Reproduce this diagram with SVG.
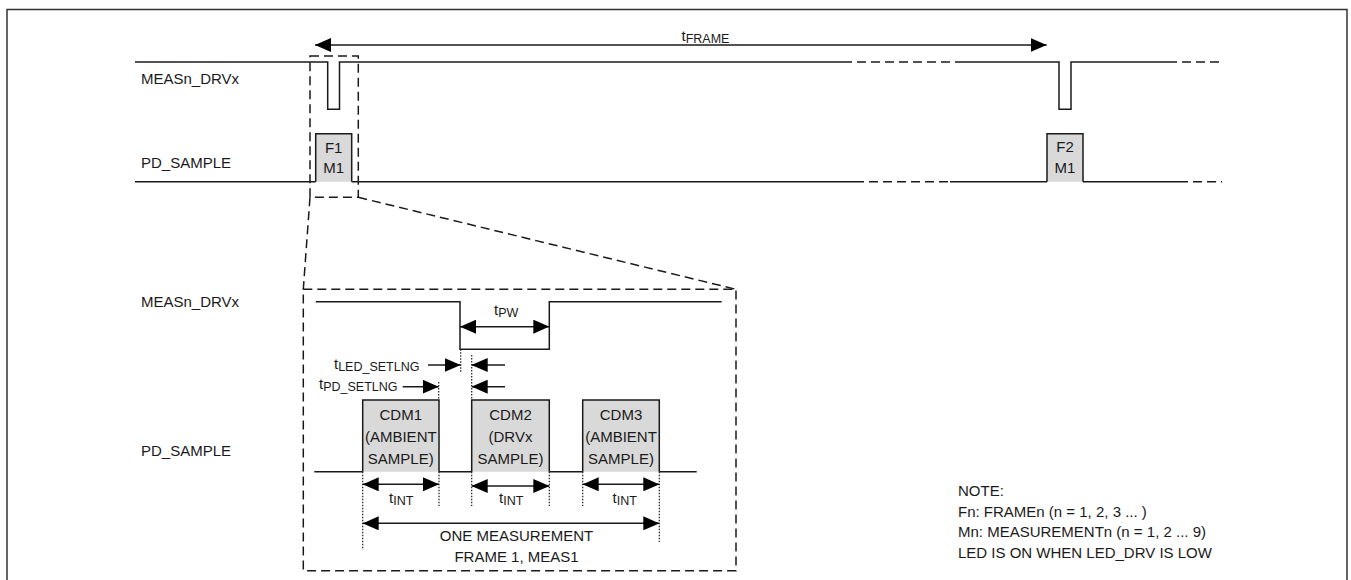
<svg xmlns="http://www.w3.org/2000/svg" width="1351" height="580" viewBox="0 0 1351 580">
<style>
text{font-family:"Liberation Sans",Arial,sans-serif;font-size:15px;fill:#1a1a1a}
.sub{font-size:12.5px}
.c{text-anchor:middle}
.sig{fill:none;stroke:#1a1a1a;stroke-width:1.5}
.dsig{fill:none;stroke:#1a1a1a;stroke-width:1.5;stroke-dasharray:9,5}
.box{fill:#d9d9d9;stroke:#1a1a1a;stroke-width:1.5}
.dash{fill:none;stroke:#1a1a1a;stroke-width:1.5;stroke-dasharray:9,5}
.dot{fill:none;stroke:#1a1a1a;stroke-width:1.2;stroke-dasharray:1.5,1.5}
.arr{fill:none;stroke:#1a1a1a;stroke-width:1.5;marker-end:url(#ah)}
.arr2{fill:none;stroke:#1a1a1a;stroke-width:1.5;marker-end:url(#ah);marker-start:url(#ah)}
</style>
<defs>
<marker id="ah" markerUnits="userSpaceOnUse" markerWidth="16" markerHeight="14" refX="16" refY="7" orient="auto-start-reverse" viewBox="0 0 16 14">
<path d="M0,0 L16,7 L0,14 z" fill="#000"/>
</marker>
</defs>
<rect x="7" y="9.5" width="1340" height="590" fill="#fff" stroke="#333" stroke-width="1.5"/>

<g id="labels">
<text x="141" y="84">MEASn_DRVx</text>
<text x="141" y="168">PD_SAMPLE</text>
<text x="141" y="307">MEASn_DRVx</text>
<text x="141" y="456">PD_SAMPLE</text>
</g>

<g id="top-meas">
<path class="sig" d="M135,62 H327.7 V109.3 H339.5 V62 H843"/>
<path class="dsig" d="M843,62 H955"/>
<path class="sig" d="M955,62 H1059 V109.3 H1071 V62 H1168"/>
<path class="dsig" d="M1168,62 H1222"/>
</g>

<g id="top-pd">
<path class="sig" d="M135,181.7 H315.7 M351.7,181.7 H855"/>
<path class="dsig" d="M855,181.7 H950"/>
<path class="sig" d="M950,181.7 H1047 M1083,181.7 H1179"/>
<path class="dsig" d="M1179,181.7 H1222"/>
</g>

<g id="f1m1">
<path class="box" d="M315.7,181.7 V133.7 H351.7 V181.7"/>
<text class="c" x="333.7" y="152.5">F1</text>
<text class="c" x="333.7" y="173">M1</text>
</g>
<g id="f2m1">
<path class="box" d="M1047,181.7 V133.7 H1083 V181.7"/>
<text class="c" x="1065" y="152">F2</text>
<text class="c" x="1065" y="173">M1</text>
</g>

<g id="tframe">
<text x="681.5" y="41">t<tspan class="sub" dy="1.5">FRAME</tspan></text>
</g>

<g id="zoom-box">
<rect class="dash" x="310" y="56" width="48.3" height="141.3"/>
<rect class="dash" x="303.3" y="289.3" width="432.7" height="281.4"/>
</g>

<g id="bottom-meas">
<path class="sig" d="M315.7,301.7 H460 V349.3 H549.3 V301.7 H721.7"/>
</g>

<g id="cdm1">
<path class="box" d="M362.7,471.7 V400 H439 V471.7"/>
<text class="c" x="400.8" y="420">CDM1</text>
<text class="c" x="400.8" y="442">(AMBIENT</text>
<text class="c" x="400.8" y="464">SAMPLE)</text>
</g>
<g id="cdm2">
<path class="box" d="M471.7,471.7 V400 H549.3 V471.7"/>
<text class="c" x="510.5" y="420">CDM2</text>
<text class="c" x="510.5" y="442">(DRVx</text>
<text class="c" x="510.5" y="464">SAMPLE)</text>
</g>
<g id="cdm3">
<path class="box" d="M582.7,471.7 V400 H659.3 V471.7"/>
<text class="c" x="621" y="420">CDM3</text>
<text class="c" x="621" y="442">(AMBIENT</text>
<text class="c" x="621" y="464">SAMPLE)</text>
</g>
<g id="bottom-pd">
<path class="sig" d="M314.3,471.7 H362.7 M439,471.7 H471.7 M549.3,471.7 H582.7 M659.3,471.7 H696.7"/>
</g>

<g id="timing-labels">
<text x="494" y="315">t<tspan class="sub" dy="1.5">PW</tspan></text>
<text x="334" y="369">t<tspan class="sub" dy="1.5">LED_SETLNG</tspan></text>
<text x="319" y="389">t<tspan class="sub" dy="1.5">PD_SETLNG</tspan></text>
<text x="389" y="503">t<tspan class="sub" dy="1.5">INT</tspan></text>
<text x="499" y="503">t<tspan class="sub" dy="1.5">INT</tspan></text>
<text x="612.5" y="503">t<tspan class="sub" dy="1.5">INT</tspan></text>
<text class="c" x="516.5" y="541">ONE MEASUREMENT</text>
<text class="c" x="516.5" y="562">FRAME 1, MEAS1</text>
</g>

<g id="note">
<text x="958" y="496">NOTE:</text>
<text x="958" y="516.5">Fn: FRAMEn (n = 1, 2, 3 ... )</text>
<text x="958" y="537">Mn: MEASUREMENTn (n = 1, 2 ... 9)</text>
<text x="958" y="557.5">LED IS ON WHEN LED_DRV IS LOW</text>
</g>

<g id="connectors">
<path class="arr2" d="M315,45 H1046.7"/>
<path class="dash" d="M310,197.3 L303.3,289.3 M358.3,197.3 L736,289.3"/>
<path class="arr2" d="M460,326.7 H549.3"/>
<path class="dot" d="M460.7,349.3 V372 M471.7,355 V400 M438.7,382 V400"/>
<path class="arr" d="M428,365 H460.7"/>
<path class="arr" d="M505,365 H471.7"/>
<path class="arr" d="M402.7,386.7 H438.7"/>
<path class="arr" d="M505,386.7 H471.7"/>
<path class="dot" d="M362.7,471.7 V550 M439,471.7 V506 M471.7,471.7 V506 M549.3,471.7 V506 M582.7,471.7 V506 M659.3,471.7 V542"/>
<path class="arr2" d="M362.7,484.3 H439"/>
<path class="arr2" d="M471.7,486 H549.3"/>
<path class="arr2" d="M582.7,484.3 H659.3"/>
<path class="arr2" d="M362.7,523.3 H659.3"/>
</g>
</svg>
